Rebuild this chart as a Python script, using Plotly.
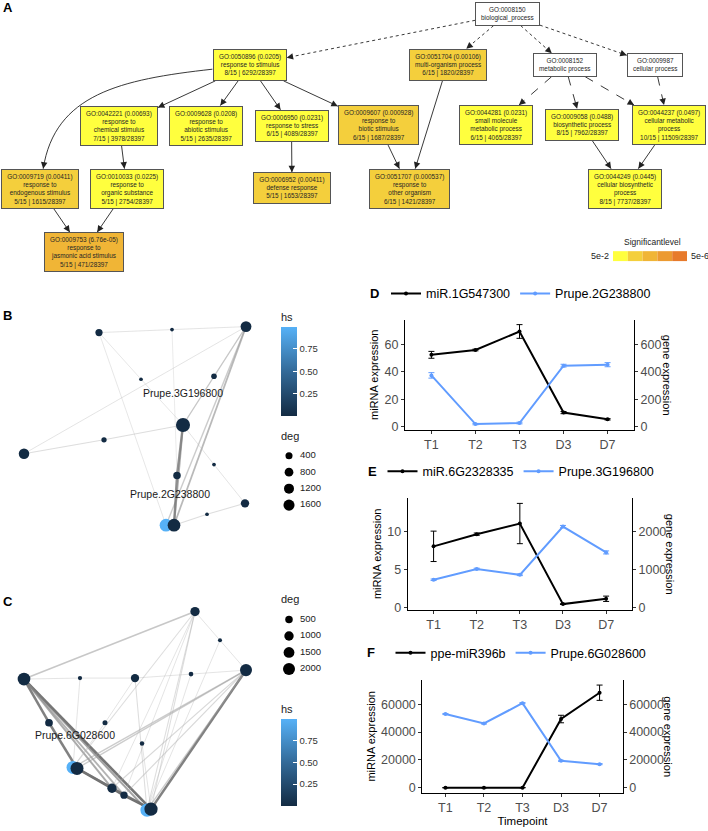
import math
import plotly.graph_objects as go

W, H = 708, 831
FONT = "Liberation Sans, Arial, Helvetica, sans-serif"

# ======================= Panel A : GO DAG data =======================
go_ids = ["GO:0008150", "GO:0050896", "GO:0051704", "GO:0008152", "GO:0009987",
          "GO:0042221", "GO:0009628", "GO:0006950", "GO:0009607", "GO:0044281",
          "GO:0009058", "GO:0044237", "GO:0009719", "GO:0010033", "GO:0006952",
          "GO:0051707", "GO:0044249", "GO:0009753"]
go_pval = [None, "0.0205", "0.00106", None, None,
           "0.00693", "0.0208", "0.0231", "0.000928", "0.0231",
           "0.0488", "0.0497", "0.00411", "0.0225", "0.00411",
           "0.000537", "0.0445", "6.76e-05"]
go_term = ["biological_process", "response to stimulus", "multi-organism process",
           "metabolic process", "cellular process",
           "response to|chemical stimulus", "response to|abiotic stimulus",
           "response to stress", "response to|biotic stimulus",
           "small molecule|metabolic process", "biosynthetic process",
           "cellular metabolic|process", "response to|endogenous stimulus",
           "response to|organic substance", "defense response",
           "response to|other organism", "cellular biosynthetic|process",
           "response to|jasmonic acid stimulus"]
go_sig = [None, "8/15", "6/15", None, None, "7/15", "5/15", "6/15", "6/15", "6/15",
          "8/15", "10/15", "5/15", "5/15", "5/15", "6/15", "8/15", "5/15"]
go_annot = [None, "6292/28397", "1820/28397", None, None, "3978/28397", "2635/28397",
            "4089/28397", "1687/28397", "4065/28397", "7962/28397", "11509/28397",
            "1615/28397", "2754/28397", "1653/28397", "1421/28397", "7737/28397",
            "471/28397"]
# graph layout (node centres from the dot layout)
go_x = [507.5, 249.5, 447.5, 565, 655, 119, 206, 291.5, 378.5, 496, 581.5, 668.5,
        40, 127, 292, 409, 624.5, 83.5]
go_y = [14, 65.5, 65, 65.5, 65.5, 126.5, 126.5, 126.5, 126, 126, 125.5, 126,
        190, 190, 189.5, 190, 190, 254]
go_edge_from = [0, 0, 0, 0, 1, 1, 1, 1, 1, 5, 7, 12, 13, 8, 2, 3, 3, 3, 4, 10, 11]
go_edge_to = [1, 2, 3, 4, 5, 6, 7, 8, 12, 13, 14, 17, 17, 15, 15, 9, 10, 11, 11, 16, 16]
go_edge_kind = ["dot"] * 4 + ["solid"] * 11 + ["dash"] * 4 + ["solid"] * 2
go_edge_via = {(1, 12): [(120, 80), (55, 95)]}
sig_levels = ["5e-2", "5e-6"]
sig_palette = ["#FFFF3E", "#F4CF3C", "#F0B536", "#EC9A31", "#E77A2B"]

# ======================= Panel B / C : networks =======================
b_x = [99, 172, 246, 141, 214, 183, 104, 24, 214, 177, 245, 207, 166, 174]
b_y = [335, 332, 329, 382, 379, 428, 443, 457, 468, 479, 507, 518, 529, 529]
b_deg = [430, 12, 1500, 12, 165, 3000, 130, 1380, 12, 500, 710, 12, 2300, 2300]
b_hs = [0, 0, 0, 0, 0, 0, 0, 0, 0, 0, 0, 0, 1, 0]
b_src = [0, 1, 0, 0, 3, 1, 2, 2, 4, 2, 2, 5, 6, 5, 9, 5, 5, 8, 13, 11, 2]
b_dst = [1, 2, 12, 3, 5, 9, 7, 4, 5, 13, 12, 6, 7, 9, 13, 13, 8, 10, 11, 10, 5]
b_w = [0.1, 0.1, 0.08, 0.08, 0.08, 0.05, 0.1, 0.15, 0.15, 0.45, 0.3, 0.15, 0.15,
       0.7, 0.7, 0.55, 0.1, 0.1, 0.15, 0.15, 0.2]
b_label_text = ["Prupe.3G196800", "Prupe.2G238800"]
b_label_x = [183, 170]
b_label_y = [397, 499]
b_deg_breaks = [400, 800, 1200, 1600]

c_x = [195, 220, 24, 80, 135, 191, 246, 49, 105, 142, 73, 77, 112, 124, 147, 151]
c_y = [616, 645, 684, 683, 683, 679, 675, 728, 728, 749, 773, 774, 794, 801, 816, 815]
c_deg = [970, 25, 2300, 40, 690, 70, 2000, 540, 100, 55, 2450, 2450, 970, 450, 2600, 2600]
c_hs = [0, 0, 0, 0, 0, 0, 0, 0, 0, 0, 1, 0, 0, 0, 1, 0]
c_src = [2, 0, 1, 2, 3, 4, 5, 2, 7, 2, 2, 2, 2, 6, 6, 6, 6, 6, 6, 0, 0, 0, 0,
         4, 4, 8, 3, 9, 5, 11, 12, 13, 11, 0, 1]
c_dst = [0, 1, 6, 3, 4, 5, 6, 7, 11, 15, 14, 12, 13, 10, 11, 15, 12, 13, 14, 15, 10, 12, 13,
         14, 8, 10, 10, 15, 14, 12, 13, 15, 15, 14, 14]
c_w = [0.35, 0.1, 0.1, 0.1, 0.1, 0.1, 0.1, 0.8, 0.8, 0.85, 0.6, 0.55, 0.5, 0.3, 0.3, 0.8,
       0.2, 0.2, 0.3, 0.15, 0.15, 0.1, 0.1, 0.15, 0.1, 0.1, 0.1, 0.1, 0.1, 0.9, 0.9, 0.9,
       0.6, 0.15, 0.1]
c_label_text = ["Prupe.6G028600"]
c_label_x = [75]
c_label_y = [742]
c_deg_breaks = [500, 1000, 1500, 2000]

# ======================= Panels D/E/F : expression =======================
timepoints = ["T1", "T2", "T3", "D3", "D7"]

d_mir_name, d_gene_name = "miR.1G547300", "Prupe.2G238800"
d_mir = [52.5, 56.0, 69.5, 10.4, 5.5]
d_mir_sd = [2.5, 0.6, 5.0, 0.8, 0.5]
d_gene = [375, 20, 28, 446, 453]
d_gene_sd = [20, 5, 6, 10, 15]

e_mir_name, e_gene_name = "miR.6G2328335", "Prupe.3G196800"
e_mir = [8.1, 9.7, 11.1, 0.5, 1.2]
e_mir_sd = [2.0, 0.15, 2.65, 0.05, 0.35]
e_gene = [740, 1025, 870, 2140, 1460]
e_gene_sd = [20, 20, 20, 30, 40]

f_mir_name, f_gene_name = "ppe-miR396b", "Prupe.6G028600"
f_mir = [60, 70, 90, 49400, 68300]
f_mir_sd = [20, 20, 20, 2700, 5500]
f_gene = [53000, 46200, 60800, 19400, 17000]
f_gene_sd = [400, 400, 400, 400, 400]

# ======================= helpers =======================
FS = 6.4
CW = {c: 0.556 for c in "0123456789abdeghnopqu_"}
CW.update({"c": 0.5, "k": 0.5, "s": 0.5, "v": 0.5, "x": 0.5, "y": 0.5, "z": 0.5,
           "f": 0.278, "t": 0.278, "i": 0.222, "j": 0.222, "l": 0.222, "m": 0.833,
           "r": 0.333, "w": 0.722, "G": 0.778, "O": 0.778, ":": 0.278, " ": 0.278,
           "(": 0.333, ")": 0.333, ".": 0.278, "-": 0.333, "|": 0.26, "/": 0.278})


def text_w(s, size):
    return sum(CW.get(ch, 0.556) for ch in s) * size


def node_lines(i):
    first = go_ids[i] if go_pval[i] is None else f"{go_ids[i]} ({go_pval[i]})"
    lines = [first] + go_term[i].split("|")
    if go_sig[i] is not None:
        lines.append(f"{go_sig[i]} | {go_annot[i]}")
    return lines


def box_size(i):
    lines = node_lines(i)
    return max(text_w(l, FS) for l in lines) + 12, len(lines) * FS * 1.3 + 7


def node_fill(i):
    if go_pval[i] is None:
        return "white"
    p = float(go_pval[i])
    k = int(math.floor(math.log10(0.05 / p)))
    return sig_palette[max(0, min(len(sig_palette) - 1, k))]


def exit_pt(i, tx, ty):
    cx, cy = go_x[i], go_y[i]
    w, h = box_size(i)
    dx, dy = tx - cx, ty - cy
    t1 = (w / 2) / abs(dx) if dx else 1e9
    t2 = (h / 2) / abs(dy) if dy else 1e9
    t = min(t1, t2)
    return cx + t * dx, cy + t * dy


def deg_size(d):
    return 3 + 10.5 * math.sqrt(d / 2700.0)


fig = go.Figure()
shapes, annotations = [], []

# ---------- Panel A ----------
EDGE_COL = "#222222"
for p, c, kind in zip(go_edge_from, go_edge_to, go_edge_kind):
    via = go_edge_via.get((p, c), [])
    first_t = via[0] if via else (go_x[c], go_y[c])
    last_t = via[-1] if via else (go_x[p], go_y[p])
    sx, sy = exit_pt(p, *first_t)
    ex, ey = exit_pt(c, *last_t)
    if via:
        path = f"M{sx:.1f},{sy:.1f} C{via[0][0]},{via[0][1]} {via[1][0]},{via[1][1]} {ex:.1f},{ey:.1f}"
        shapes.append(dict(type="path", path=path, xref="x", yref="y",
                           line=dict(color=EDGE_COL, width=0.9, dash=kind)))
        px, py = via[-1]
    else:
        shapes.append(dict(type="line", x0=sx, y0=sy, x1=ex, y1=ey, xref="x", yref="y",
                           line=dict(color=EDGE_COL, width=0.9, dash=kind)))
        px, py = sx, sy
    L = math.hypot(ex - px, ey - py)
    ux, uy = (ex - px) / L, (ey - py) / L
    annotations.append(dict(x=ex, y=ey, xref="x", yref="y", text="", showarrow=True,
                            arrowhead=2, arrowsize=1.3, arrowwidth=1, arrowcolor=EDGE_COL,
                            ax=-ux * 6, ay=-uy * 6, standoff=0))

for i in range(len(go_ids)):
    w, h = box_size(i)
    annotations.append(dict(x=go_x[i], y=go_y[i], xref="x", yref="y",
                            xanchor="center", yanchor="middle",
                            text="<br>".join(node_lines(i)), showarrow=False,
                            font=dict(size=FS, family=FONT, color="#262626"),
                            bgcolor=node_fill(i), bordercolor="#555555", borderwidth=1,
                            borderpad=0, width=w - 2, height=h - 2,
                            align="center", valign="middle"))

# significance legend
seg_w = 74 / len(sig_palette)
for k, col in enumerate(sig_palette):
    shapes.append(dict(type="rect", xref="x", yref="y", x0=613 + k * seg_w,
                       x1=613 + (k + 1) * seg_w, y0=253, y1=263,
                       fillcolor=col, line=dict(width=0)))
annotations += [
    dict(x=652, y=244, xref="x", yref="y", text="Significantlevel", showarrow=False,
         xanchor="center", yanchor="middle", font=dict(size=8.5, family=FONT, color="#222")),
    dict(x=611, y=258, xref="x", yref="y", text=sig_levels[0], showarrow=False,
         xanchor="right", yanchor="middle", font=dict(size=9, family=FONT, color="#222")),
    dict(x=689, y=258, xref="x", yref="y", text=sig_levels[1], showarrow=False,
         xanchor="left", yanchor="middle", font=dict(size=9, family=FONT, color="#222")),
]

# ---------- Panels B / C ----------
HS_SCALE = [[0, "#132B43"], [0.5, "#336A98"], [1, "#56B1F7"]]


def network(xs, ys, deg, hs, src, dst, wts, lab_t, lab_x, lab_y, xa, ya, cb,
            breaks, leg_top):
    for s, t, w in zip(src, dst, wts):
        g = int(195 - 125 * w)
        fig.add_trace(go.Scatter(
            x=[xs[s], xs[t]], y=[ys[s], ys[t]], mode="lines", xaxis=xa, yaxis=ya,
            line=dict(color=f"rgba({g},{g},{g},{0.35 + 0.55 * w:.2f})", width=0.7 + 2.3 * w),
            hoverinfo="skip", showlegend=False))
    fig.add_trace(go.Scatter(
        x=xs, y=ys, mode="markers", xaxis=xa, yaxis=ya, showlegend=False,
        marker=dict(size=[deg_size(d) for d in deg], color=hs, colorscale=HS_SCALE,
                    cmin=0, cmax=1, line=dict(width=0), opacity=1, colorbar=cb)))
    fig.add_trace(go.Scatter(
        x=lab_x, y=lab_y, text=lab_t, mode="text", xaxis=xa, yaxis=ya, showlegend=False,
        textfont=dict(size=10.5, family=FONT, color="#1a1a1a")))
    # size legend ("deg")
    ly = [leg_top + 19 + k * 16.6 for k in range(len(breaks))]
    fig.add_trace(go.Scatter(
        x=[289] * len(breaks), y=ly, mode="markers", xaxis=xa, yaxis=ya, showlegend=False,
        marker=dict(size=[deg_size(b) for b in breaks], color="#000000", opacity=1,
                    line=dict(width=0)), hoverinfo="skip"))
    fig.add_trace(go.Scatter(
        x=[300] * len(breaks), y=ly, mode="text", text=[str(b) for b in breaks],
        textposition="middle right", xaxis=xa, yaxis=ya, showlegend=False,
        textfont=dict(size=9.5, family=FONT, color="#222"), hoverinfo="skip"))
    fig.add_trace(go.Scatter(
        x=[281], y=[leg_top], mode="text", text=["deg"], textposition="middle right",
        xaxis=xa, yaxis=ya, showlegend=False,
        textfont=dict(size=11, family=FONT, color="#222"), hoverinfo="skip"))


def cbar(top, length):
    return dict(x=281 / W, xanchor="left", xpad=0, y=1 - top / H, yanchor="top", ypad=0,
                len=length, lenmode="pixels", thickness=16, thicknessmode="pixels",
                outlinewidth=0, tickvals=[0.25, 0.5, 0.75], ticktext=["0.25", "0.50", "0.75"],
                ticks="inside", ticklen=4, tickcolor="white", tickwidth=1,
                tickfont=dict(size=9.5, family=FONT, color="#333"),
                title=dict(text="hs", side="top", font=dict(size=11, family=FONT, color="#222")))


network(b_x, b_y, b_deg, b_hs, b_src, b_dst, b_w, b_label_text, b_label_x, b_label_y,
        "x2", "y2", cbar(312, 106), b_deg_breaks, 440)
network(c_x, c_y, c_deg, c_hs, c_src, c_dst, c_w, c_label_text, c_label_x, c_label_y,
        "x3", "y3", cbar(707, 104), c_deg_breaks, 605)

# ---------- Panels D / E / F ----------
BLUE = "#619CFF"
panels = [
    dict(mir=d_mir, mir_sd=d_mir_sd, gene=d_gene, gene_sd=d_gene_sd, mname=d_mir_name,
         gname=d_gene_name, xa="x4", yl="y4", yr="y5", leg="legend",
         xdom=[405, 634], ydom=[322, 433], yrange=[-2.2, 78.1], fac=10,
         lt=[0, 20, 40, 60], legy=296, ytx=667, xlab=None),
    dict(mir=e_mir, mir_sd=e_mir_sd, gene=e_gene, gene_sd=e_gene_sd, mname=e_mir_name,
         gname=e_gene_name, xa="x5", yl="y6", yr="y7", leg="legend2",
         xdom=[407.7, 632], ydom=[501.7, 614], yrange=[-0.22, 14.45], fac=200,
         lt=[0, 5, 10], legy=475, ytx=670, xlab=None),
    dict(mir=f_mir, mir_sd=f_mir_sd, gene=f_gene, gene_sd=f_gene_sd, mname=f_mir_name,
         gname=f_gene_name, xa="x6", yl="y8", yr="y9", leg="legend3",
         xdom=[422.3, 622.7], ydom=[685, 798.3], yrange=[-3400, 77400], fac=1,
         lt=[0, 20000, 40000, 60000], legy=658, ytx=668, xlab="Timepoint"),
]

TICKFONT = dict(size=12.5, family=FONT, color="#4D4D4D")
layout_axes = {}
for pn in panels:
    fig.add_trace(go.Scatter(
        x=timepoints, y=pn["mir"], name=pn["mname"], xaxis=pn["xa"], yaxis=pn["yl"],
        mode="lines+markers", line=dict(color="black", width=2),
        marker=dict(size=4, color="black"), legend=pn["leg"],
        error_y=dict(type="data", array=pn["mir_sd"], color="black", thickness=1, width=3)))
    fig.add_trace(go.Scatter(
        x=timepoints, y=pn["gene"], name=pn["gname"], xaxis=pn["xa"], yaxis=pn["yr"],
        mode="lines+markers", line=dict(color=BLUE, width=2),
        marker=dict(size=4, color=BLUE), legend=pn["leg"],
        error_y=dict(type="data", array=pn["gene_sd"], color=BLUE, thickness=1, width=3)))
    xk = "xaxis" + pn["xa"][1:]
    ylk = "yaxis" + pn["yl"][1:]
    yrk = "yaxis" + pn["yr"][1:]
    ydom = [1 - pn["ydom"][1] / H, 1 - pn["ydom"][0] / H]
    layout_axes[xk] = dict(
        domain=[pn["xdom"][0] / W, pn["xdom"][1] / W], anchor=pn["yl"], type="category",
        categoryorder="array", categoryarray=timepoints, range=[-0.6, 4.6],
        showline=True, linecolor="black", linewidth=1, ticks="outside", ticklen=3,
        tickcolor="#333", tickfont=TICKFONT, showgrid=False, zeroline=False,
        title=dict(text=pn["xlab"], font=dict(size=11.5, family=FONT, color="black"),
                   standoff=2) if pn["xlab"] else None)
    common_y = dict(showline=True, linecolor="black", linewidth=1, ticks="outside",
                    ticklen=3, tickcolor="#333", tickfont=TICKFONT, showgrid=False,
                    zeroline=False, tickformat="d")
    layout_axes[ylk] = dict(
        domain=ydom, anchor=pn["xa"], range=pn["yrange"], tickvals=pn["lt"],
        title=dict(text="miRNA expression", font=dict(size=11, family=FONT, color="black"),
                   standoff=3), **common_y)
    layout_axes[yrk] = dict(
        overlaying=pn["yl"], side="right", anchor=pn["xa"],
        range=[v * pn["fac"] for v in pn["yrange"]],
        tickvals=[v * pn["fac"] for v in pn["lt"]], **common_y)
    annotations.append(dict(
        x=pn["ytx"] / W, y=1 - (pn["ydom"][0] + pn["ydom"][1]) / 2 / H, xref="paper",
        yref="paper", xanchor="center", yanchor="middle",
        text="gene expression", textangle=90, showarrow=False,
        font=dict(size=11, family=FONT, color="black")))

# panel letters
for letter, lx, ly in [("A", 7.5, 8), ("B", 7.5, 318), ("C", 7.5, 606),
                       ("D", 374, 296), ("E", 372, 475), ("F", 371, 657)]:
    annotations.append(dict(x=lx / W, y=1 - ly / H, xref="paper", yref="paper",
                            xanchor="center", yanchor="middle",
                            text=f"<b>{letter}</b>", showarrow=False,
                            font=dict(size=13, family=FONT, color="black")))

hidden = dict(visible=False, showgrid=False, zeroline=False)
line_leg = dict(orientation="h", x=521 / W, xanchor="center", yanchor="middle",
                font=dict(size=12.5, family=FONT, color="black"),
                bgcolor="rgba(0,0,0,0)", itemwidth=30)

fig.update_layout(
    width=W, height=H, autosize=False, margin=dict(l=0, r=0, t=0, b=0),
    paper_bgcolor="white", plot_bgcolor="rgba(0,0,0,0)",
    font=dict(family=FONT),
    xaxis=dict(domain=[0, 1], range=[0, 708], anchor="y", **hidden),
    yaxis=dict(domain=[1 - 290 / H, 1], range=[290, 0], anchor="x", **hidden),
    xaxis2=dict(domain=[0, 340 / W], range=[0, 340], anchor="y2", **hidden),
    yaxis2=dict(domain=[1 - 560 / H, 1 - 300 / H], range=[560, 300], anchor="x2", **hidden),
    xaxis3=dict(domain=[0, 340 / W], range=[0, 340], anchor="y3", **hidden),
    yaxis3=dict(domain=[0, 1 - 580 / H], range=[831, 580], anchor="x3", **hidden),
    legend=dict(y=1 - panels[0]["legy"] / H, **line_leg),
    legend2=dict(y=1 - panels[1]["legy"] / H, **line_leg),
    legend3=dict(y=1 - panels[2]["legy"] / H, **line_leg),
    shapes=shapes, annotations=annotations, showlegend=True,
    **layout_axes,
)

fig.write_html("out.html", config={"displayModeBar": False},
               post_script="document.body.style.margin='0';document.body.style.padding='0';")
